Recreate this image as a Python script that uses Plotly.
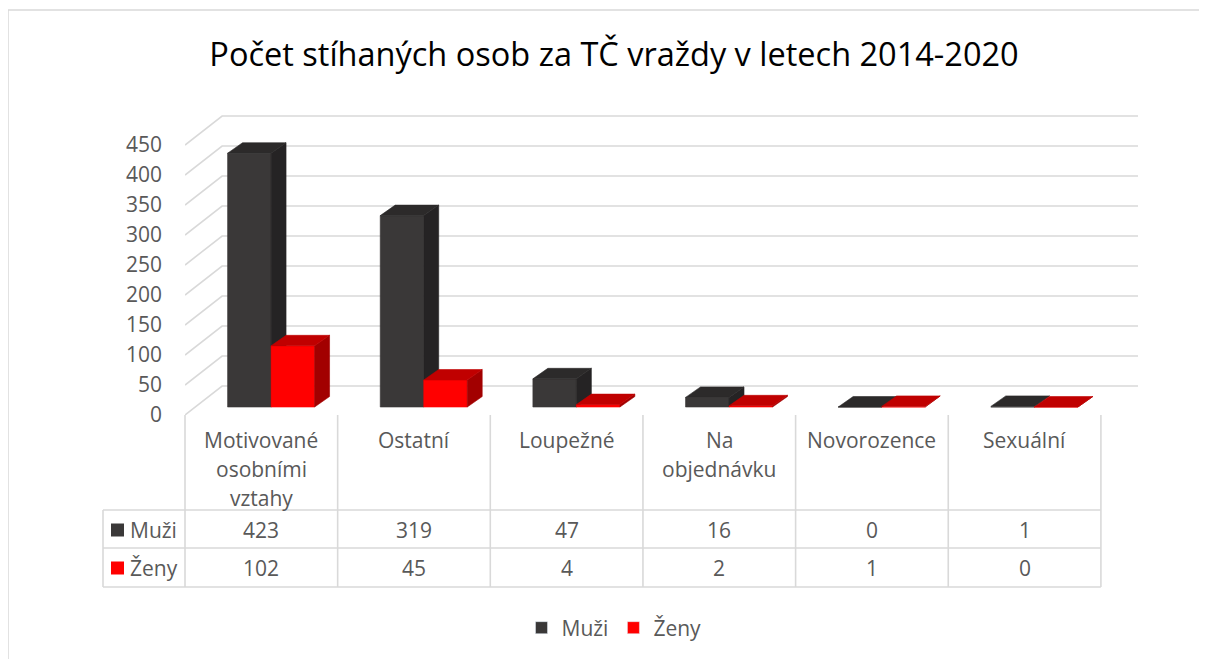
import plotly.graph_objects as go

# ---------------- data ----------------
categories = ["Motivované\nosobními\nvztahy", "Ostatní", "Loupežné", "Na\nobjednávku", "Novorozence", "Sexuální"]
series_names = ["Muži", "Ženy"]
muzi = [423, 319, 47, 16, 0, 1]
zeny = [102, 45, 4, 2, 1, 0]
y_ticks = [0, 50, 100, 150, 200, 250, 300, 350, 400, 450]
title_text = "Počet stíhaných osob za TČ vraždy v letech 2014-2020"

series_values = {"Muži": muzi, "Ženy": zeny}
colors = {
    "Muži": {"front": "#3a3838", "side": "#252324", "top": "#2c2a2a"},
    "Ženy": {"front": "#ff0000", "side": "#a20000", "top": "#c00000"},
}

# ---------------- geometry (pseudo 3D) ----------------
W, H = 1207, 659
BODY = 8   # page body margin offset: positions below are page pixels
PL, PR, PT, PB = 185 - BODY, 1138 - BODY, 115 - BODY, 415 - BODY   # plot box in figure pixels
n = len(categories)
DX = 0.243      # wall depth (category units)
DY = 48.3       # wall depth (value units)
XR = [-0.5, n - 0.5 + DX]
YR = [0, 500]
BAR_W = 0.285
OFFX = 0.064
OFFY = 13.3
BDX = 0.098
BDY = 17.5
GRID = "#d9d9d9"
TXT = "#595959"
FONT = "Open Sans"
FS = 21


def pxx(X):
    """page pixel x -> paper x"""
    return (X - BODY - PL) / (PR - PL)


def pxy(Y):
    """page pixel y -> paper y"""
    return (PB - (Y - BODY)) / (PB - PT)


def ax2paper(xv):
    return (xv - XR[0]) / (XR[1] - XR[0])


fig = go.Figure()

# back wall / side wall gridlines
gx, gy = [], []
for v in y_ticks:
    gx += [XR[0], XR[0] + DX, n - 0.5 + DX, None]
    gy += [v, v + DY, v + DY, None]
fig.add_trace(go.Scatter(x=gx, y=gy, mode="lines", line=dict(color=GRID, width=1.6),
                         hoverinfo="skip", showlegend=False, cliponaxis=False))

# 3D bars
for s, name in enumerate(series_names):
    vals = series_values[name]
    faces = {"front": ([], []), "side": ([], []), "top": ([], [])}
    for i, v in enumerate(vals):
        x0 = i + OFFX - BAR_W + s * BAR_W
        x1 = x0 + BAR_W
        b = OFFY
        t = OFFY + v
        fx, fy = faces["front"]
        fx += [x0, x1, x1, x0, x0, None]
        fy += [b, b, t, t, b, None]
        sx, sy = faces["side"]
        sx += [x1, x1 + BDX, x1 + BDX, x1, x1, None]
        sy += [b, b + BDY, t + BDY, t, b, None]
        tx, ty = faces["top"]
        tx += [x0, x1, x1 + BDX, x0 + BDX, x0, None]
        ty += [t, t, t + BDY, t + BDY, t, None]
    for face in ["front", "side", "top"]:
        c = colors[name][face]
        fig.add_trace(go.Scatter(x=faces[face][0], y=faces[face][1], mode="lines",
                                 fill="toself", fillcolor=c, line=dict(color=c, width=0.6),
                                 hoverinfo="skip", showlegend=False))

# legend entries
for name in series_names:
    fig.add_trace(go.Bar(x=[None], y=[None], name=name, marker_color=colors[name]["front"]))

shapes = []
annotations = []

# outer chart border
shapes.append(dict(type="rect", xref="paper", yref="paper", x0=pxx(8), y0=pxy(10), x1=pxx(1250), y1=pxy(700),
                   line=dict(color=GRID, width=1.5), fillcolor="rgba(0,0,0,0)", layer="below"))

# data table
row_top = 415
header_bot = 510
row1_bot = 548
row2_bot = 587
key_left = 103

for k in range(n + 1):
    xp = ax2paper(k - 0.5)
    shapes.append(dict(type="line", xref="paper", yref="paper", x0=xp, x1=xp,
                       y0=pxy(row_top), y1=pxy(row2_bot), line=dict(color=GRID, width=1.6)))
shapes.append(dict(type="line", xref="paper", yref="paper", x0=pxx(key_left), x1=pxx(key_left),
                   y0=pxy(header_bot), y1=pxy(row2_bot), line=dict(color=GRID, width=1.6)))
for yy in [header_bot, row1_bot, row2_bot]:
    shapes.append(dict(type="line", xref="paper", yref="paper", x0=pxx(key_left), x1=ax2paper(n - 0.5),
                       y0=pxy(yy), y1=pxy(yy), line=dict(color=GRID, width=1.6)))

# category header labels
for i, cat in enumerate(categories):
    for j, line in enumerate(cat.split("\n")):
        annotations.append(dict(text=line, xref="paper", yref="paper", x=ax2paper(i), y=pxy(440 + 29 * j),
                                xanchor="center", yanchor="middle", showarrow=False,
                                font=dict(family=FONT, size=FS, color=TXT)))

# value rows
row_centers = {"Muži": 530, "Ženy": 568}
for name in series_names:
    yc = row_centers[name]
    shapes.append(dict(type="rect", xref="paper", yref="paper", x0=pxx(111), x1=pxx(124),
                       y0=pxy(yc - 6.5), y1=pxy(yc + 6.5), fillcolor=colors[name]["front"], line=dict(width=0)))
    annotations.append(dict(text=name, xref="paper", yref="paper", x=pxx(128), y=pxy(yc),
                            xanchor="left", yanchor="middle", showarrow=False,
                            font=dict(family=FONT, size=FS, color=TXT)))
    for i, v in enumerate(series_values[name]):
        annotations.append(dict(text=str(v), xref="paper", yref="paper", x=ax2paper(i), y=pxy(yc),
                                xanchor="center", yanchor="middle", showarrow=False,
                                font=dict(family=FONT, size=FS, color=TXT)))

fig.update_layout(
    width=W, height=H, autosize=False,
    margin=dict(l=PL, r=W - PR, t=PT, b=H - PB, pad=0, autoexpand=False),
    paper_bgcolor="white", plot_bgcolor="white",
    title=dict(text=title_text, x=(614 - BODY) / W, xref="container", xanchor="center",
               y=1 - (55 - BODY) / H, yref="container", yanchor="middle",
               font=dict(family=FONT, size=32.5, color="#000000")),
    xaxis=dict(range=XR, visible=False, fixedrange=True),
    yaxis=dict(range=YR, tickvals=y_ticks, showgrid=False, zeroline=False, showline=False,
               ticks="", ticklabelstandoff=22, tickfont=dict(family=FONT, size=FS, color=TXT),
               fixedrange=True, automargin=False),
    legend=dict(orientation="h", x=(614 - BODY) / W, xref="container", xanchor="center",
                y=1 - (628 - BODY) / H, yref="container", yanchor="middle",
                font=dict(family=FONT, size=FS, color=TXT), itemwidth=30,
                bgcolor="rgba(0,0,0,0)"),
    shapes=shapes,
    annotations=annotations,
    hovermode=False,
    showlegend=True,
)

fig.write_html("out.html")
